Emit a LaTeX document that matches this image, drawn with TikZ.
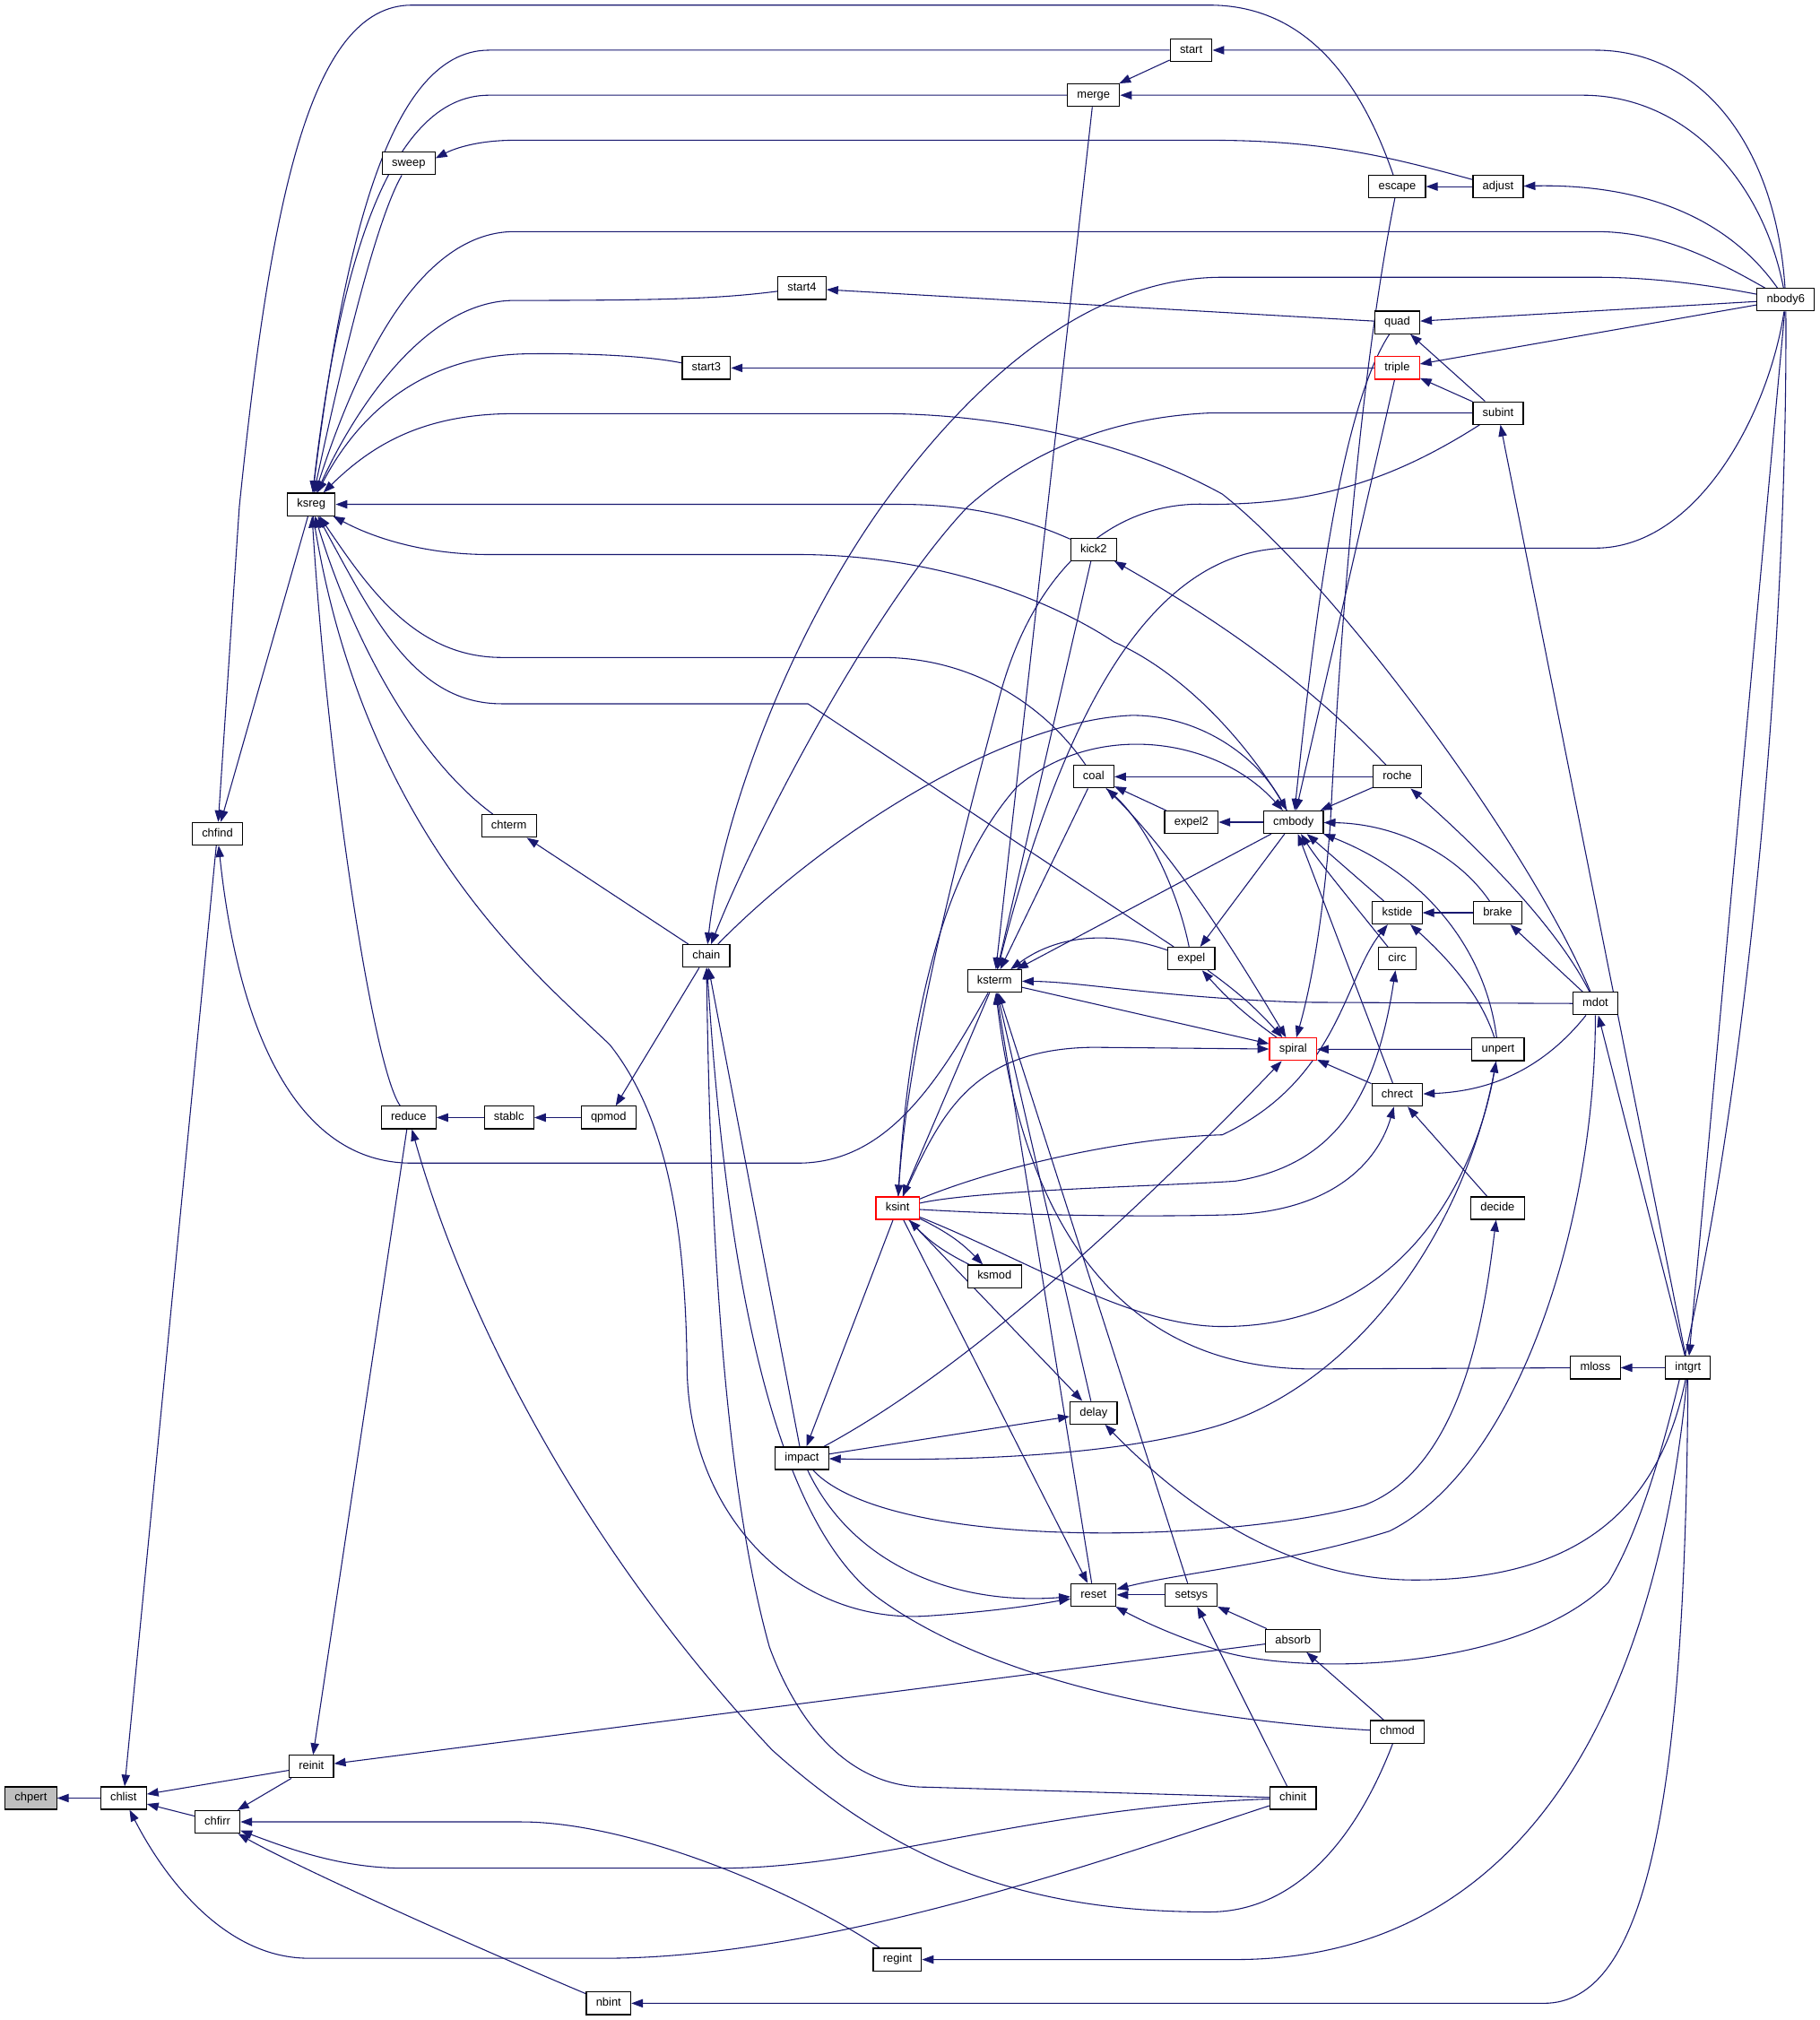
\documentclass[tikz,border=0pt]{standalone}
\usepackage{fontspec}
\newfontfamily\graphfont{Liberation Sans}
\usepackage{xcolor}
\usetikzlibrary{arrows.meta,backgrounds}
\definecolor{edgeblue}{RGB}{25,25,112}
\definecolor{focusgray}{RGB}{191,191,191}
\tikzset{
  fn/.style={draw=black, line width=0.8pt, fill=white, font=\graphfont\fontsize{9}{11}\selectfont,
    minimum height=17.5pt, inner xsep=7.5pt, inner ysep=0pt, text height=6.6pt, text depth=1.9pt},
  focus/.style={fn, fill=focusgray},
  trunc/.style={fn, draw=red},
  call/.style={draw=edgeblue, line width=0.75pt, -{Triangle[length=9pt,width=6.5pt]}}
}
\begin{document}
\begin{tikzpicture}[x=1pt, y=-1pt] %caller graph, y runs downwards
\useasboundingbox (0,0) rectangle (1414,1570);

\node [focus] (chpert) at (24,1397.5) {chpert};
\node [fn] (chlist) at (96,1397.5) {chlist};
\node [fn] (chfirr) at (169,1416) {chfirr};
\node [fn] (reinit) at (242,1373) {reinit};
\node [fn] (chfind) at (169,648) {chfind};
\node [fn] (ksreg) at (242,392) {ksreg};
\node [fn] (sweep) at (317.6,127) {sweep};
\node [fn] (reduce) at (317.6,868.6) {reduce};
\node [fn] (stablc) at (395.6,868.6) {stablc};
\node [fn] (qpmod) at (473,868.6) {qpmod};
\node [fn] (chterm) at (395.6,642) {chterm};
\node [fn] (chain) at (549,743) {chain};
\node [fn] (start4) at (623.3,224) {start4};
\node [fn] (start3) at (549,286) {start3};
\node [fn] (start) at (925.8,39) {start};
\node [fn] (merge) at (850,74) {merge};
\node [fn] (escape) at (1086,145) {escape};
\node [fn] (adjust) at (1164.4,145) {adjust};
\node [fn] (nbody6) at (1388,233) {nbody6};
\node [fn] (quad) at (1086,250.6) {quad};
\node [trunc] (triple) at (1086,286) {triple};
\node [fn] (subint) at (1164.4,321) {subint};
\node [fn] (kick2) at (850,427) {kick2};
\node [fn] (coal) at (850,603.7) {coal};
\node [fn] (roche) at (1086,603.7) {roche};
\node [fn] (expel2) at (926,639) {expel2};
\node [fn] (cmbody) at (1005.3,639) {cmbody};
\node [fn] (kstide) at (1086,709.4) {kstide};
\node [fn] (brake) at (1164,709.4) {brake};
\node [fn] (circ) at (1086,745) {circ};
\node [fn] (expel) at (926,745) {expel};
\node [fn] (ksterm) at (773,762.5) {ksterm};
\node [fn] (mdot) at (1240,780) {mdot};
\node [trunc] (spiral) at (1005,815.5) {spiral};
\node [fn] (unpert) at (1164.4,815.6) {unpert};
\node [fn] (chrect) at (1086,851) {chrect};
\node [fn] (decide) at (1164,939) {decide};
\node [trunc] (ksint) at (697.6,939) {ksint};
\node [fn] (ksmod) at (773,992) {ksmod};
\node [fn] (mloss) at (1240,1063) {mloss};
\node [fn] (intgrt) at (1312,1063) {intgrt};
\node [fn] (delay) at (850,1098) {delay};
\node [fn] (impact) at (623.3,1133.4) {impact};
\node [fn] (reset) at (850,1239.6) {reset};
\node [fn] (setsys) at (926,1239.6) {setsys};
\node [fn] (absorb) at (1005,1275) {absorb};
\node [fn] (chmod) at (1086,1346) {chmod};
\node [fn] (chinit) at (1005,1397.5) {chinit};
\node [fn] (regint) at (697.5,1523) {regint};
\node [fn] (nbint) at (473,1557) {nbint};

\begin{scope}[on background layer]
\draw [call] (chlist) -- (chpert);
\draw [call] (chfind) -- (chlist);
\draw [call] (reinit) -- (chlist);
\draw [call] (chfirr) -- (chlist);
\draw [call] (chinit) .. controls (880,1438) and (650,1522) .. (470,1522) -- (240,1522) .. controls (175,1522) and (128,1460) .. (chlist);
\draw [call] (reinit) -- (chfirr);
\draw [call] (regint) .. controls (615,1468) and (490,1416) .. (405,1416) -- (chfirr);
\draw [call] (chinit) .. controls (800,1405) and (680,1452) .. (560,1452) -- (314,1452) .. controls (265,1452) and (225,1437) .. (chfirr);
\draw [call] (nbint) .. controls (350,1505) and (225,1448) .. (chfirr);
\draw [call] (reduce) -- (reinit);
\draw [call] (absorb) -- (reinit);
\draw [call] (ksreg) -- (chfind);
\draw [call] (escape) .. controls (1055,55) and (1010,4) .. (940,4) -- (320,4) .. controls (240,4) and (210,160) .. (186,394) -- (chfind);
\draw [call] (ksterm) .. controls (725,850) and (685,904) .. (620,904) -- (320,904) .. controls (230,904) and (185,800) .. (chfind);

\draw [call] (start) -- (380,39) .. controls (300,39) and (266,200) .. (ksreg);
\draw [call] (merge) -- (380,74) .. controls (302,74) and (263,210) .. (ksreg);
\draw [call] (sweep) .. controls (290,175) and (262,300) .. (ksreg);
\draw [call] (nbody6) .. controls (1330,200) and (1290,180) .. (1240,180) -- (400,180) .. controls (320,180) and (272,300) .. (ksreg);
\draw [call] (start4) .. controls (560,232) and (520,233.5) .. (400,233.5) .. controls (330,233.5) and (275,320) .. (ksreg);
\draw [call] (start3) .. controls (500,276) and (450,274.5) .. (410,275) .. controls (335,276) and (282,315) .. (ksreg);
\draw [call] (mdot) .. controls (1190,660) and (1040,455) .. (950,384) .. controls (870,340) and (770,321.5) .. (685,321.5) -- (400,321.5) .. controls (330,321.5) and (290,345) .. (ksreg);
\draw [call] (kick2) .. controls (800,405) and (760,392) .. (700,392) -- (ksreg);
\draw [call] (cmbody) .. controls (975,585) and (925,525) .. (866,499) .. controls (810,462) and (720,431) .. (620,431) -- (380,431) .. controls (330,431) and (290,418) .. (ksreg);
\draw [call] (coal) .. controls (815,552) and (760,511) .. (685,511) -- (390,511) .. controls (322,511) and (285,455) .. (ksreg);
\draw [call] (expel) -- (628,547) -- (390,547) .. controls (322,547) and (290,480) .. (ksreg);
\draw [call] (chterm) .. controls (325,590) and (275,500) .. (ksreg);
\draw [call] (reduce) .. controls (290,830) and (255,600) .. (ksreg);
\draw [call] (ksreg) .. controls (282,650) and (420,760) .. (474,812) .. controls (520,870) and (533,960) .. (534,1064) .. controls (536,1180) and (620,1262) .. (720,1256) .. controls (780,1252) and (812,1246) .. (reset);

\draw [call] (adjust) .. controls (1080,122) and (1030,109) .. (940,109) -- (400,109) .. controls (370,109) and (352,116) .. ([yshift=4pt]sweep.east);
\draw [call] (nbody6) .. controls (1380,110) and (1320,39) .. (1240,39) -- (start);
\draw [call] (start) -- (merge);
\draw [call] (nbody6) .. controls (1370,140) and (1310,74) .. (1230,74) -- (merge);
\draw [call] (merge) -- (ksterm);
\draw [call] (adjust) -- (escape);
\draw [call] (nbody6) .. controls (1340,165) and (1270,143) .. (adjust);
\draw [call] (quad) -- (start4);
\draw [call] (triple) -- (start3);
\draw [call] (nbody6) -- (quad);
\draw [call] (nbody6) -- (triple);
\draw [call] (subint) -- (quad);
\draw [call] (subint) -- (triple);
\draw [call] (intgrt) -- (subint);
\draw [call] (nbody6) .. controls (1320,220) and (1280,215.5) .. (1240,215.5) -- (950,215.5) .. controls (850,215.5) and (760,290) .. (685,394) .. controls (610,500) and (560,640) .. (chain);
\draw [call] (subint) -- (940,321) .. controls (850,325) and (790,360) .. (752,394) .. controls (680,470) and (590,640) .. (chain);
\draw [call] (subint) .. controls (1080,375) and (1020,392) .. (940,392) .. controls (860,388) and (800,450) .. (776,545) .. controls (740,680) and (705,820) .. (ksint);

\draw [call] (chain) -- (chterm);
\draw [call] (chain) -- (qpmod);
\draw [call] (chain) .. controls (640,650) and (780,560) .. (880,556) .. controls (930,556) and (975,585) .. (cmbody);
\draw [call] (ksint) .. controls (705,800) and (730,680) .. (790,612) .. controls (850,560) and (945,572) .. (cmbody);
\draw [call] (impact) -- (chain);
\draw [call] (chinit) -- (720,1389) .. controls (660,1389) and (620,1340) .. (598,1280) .. controls (562,1150) and (552,950) .. (chain);
\draw [call] (chmod) .. controls (900,1335) and (760,1300) .. (680,1240) .. controls (592,1170) and (562,950) .. (chain);
\draw [call] (stablc) -- (reduce);
\draw [call] (qpmod) -- (stablc);
\draw [call] (chmod) .. controls (1050,1440) and (1000,1486) .. (940,1486) .. controls (800,1486) and (700,1450) .. (600,1360) .. controls (450,1200) and (360,1020) .. (reduce);

\draw [call] (absorb) -- (setsys);
\draw [call] (chinit) -- (setsys);
\draw [call] (chmod) -- (absorb);
\draw [call] (setsys) -- (reset);
\draw [call] (setsys) -- (ksterm);
\draw [call] (reset) -- (ksterm);
\draw [call] (delay) -- (ksterm);
\draw [call] (mloss) -- (1020,1064) .. controls (900,1064) and (800,990) .. (ksterm);
\draw [call] (kick2) -- (ksterm);
\draw [call] (coal) -- (ksterm);
\draw [call] (cmbody) -- (ksterm);
\draw [call] (expel) .. controls (860,722) and (820,728) .. (ksterm);
\draw [call] (mdot) -- (1010,779) .. controls (900,775) and (840,763) .. (ksterm);
\draw [call] (nbody6) .. controls (1375,320) and (1320,426) .. (1240,426) -- (1000,426) .. controls (900,428) and (830,540) .. (ksterm);

\draw [call] (ksterm) -- (spiral);
\draw [call] (ksterm) -- (ksint);
\draw [call] (ksint) .. controls (730,870) and (752,815) .. (850,814) -- (spiral);
\draw [call] (ksint) .. controls (780,905) and (880,884) .. (950,882) .. controls (1040,840) and (1045,760) .. (kstide);
\draw [call] (ksint) .. controls (760,925) and (900,922) .. (960,918) .. controls (1040,905) and (1070,850) .. (circ);
\draw [call] (ksint) .. controls (800,945) and (900,946) .. (960,944) .. controls (1040,940) and (1072,900) .. (chrect);
\draw [call] (ksint) .. controls (800,980) and (880,1031) .. (950,1031) .. controls (1100,1031) and (1150,900) .. (unpert);
\draw [call] (ksint) to [bend left=10] (ksmod);
\draw [call] (ksmod) to [bend left=10] (ksint);
\draw [call] (ksint) -- (delay);
\draw [call] (ksint) -- (impact);
\draw [call] (ksint) -- (reset);
\draw [call] (impact) -- (delay);
\draw [call] (impact) .. controls (760,1060) and (900,925) .. (spiral);
\draw [call] (unpert) .. controls (1140,960) and (1050,1080) .. (940,1110) .. controls (850,1135) and (720,1135) .. (impact);
\draw [call] (impact) .. controls (690,1205) and (950,1200) .. (1060,1170) .. controls (1140,1140) and (1155,1010) .. (decide);
\draw [call] (impact) .. controls (662,1215) and (740,1248) .. (reset);

\draw [call] (intgrt) .. controls (1290,1170) and (1230,1228) .. (1100,1228) .. controls (1000,1228) and (920,1170) .. (delay);
\draw [call] (intgrt) .. controls (1290,1300) and (1200,1523) .. (960,1523) -- (regint);
\draw [call] (intgrt) .. controls (1310,1400) and (1280,1557) .. (1200,1557) -- (nbint);
\draw [call] (nbody6) -- (intgrt);
\draw [call] (nbody6) .. controls (1390,600) and (1330,1100) .. (1250,1230) .. controls (1180,1300) and (1010,1302) .. (948,1283) .. controls (915,1272) and (892,1262) .. (reset);
\draw [call] (mdot) .. controls (1240,950) and (1180,1140) .. (1080,1190) .. controls (1000,1215) and (920,1222) .. (reset);
\draw [call] (intgrt) -- (mdot);
\draw [call] (intgrt) -- (mloss);
\draw [call] (mdot) .. controls (1210,720) and (1150,660) .. (roche);
\draw [call] (mdot) -- (brake);
\draw [call] (mdot) .. controls (1200,830) and (1160,848) .. (chrect);

\draw [call] (roche) -- (cmbody);
\draw [call] (roche) -- (coal);
\draw [call] (roche) .. controls (1030,545) and (970,495) .. (kick2);
\draw [call] (expel2) -- (coal);
\draw [call] (cmbody) -- (expel2);
\draw [call] (expel) .. controls (915,690) and (890,640) .. (coal);
\draw [call] (coal) .. controls (910,660) and (960,740) .. (spiral);
\draw [call] (cmbody) -- (expel);
\draw [call] (expel) to [bend left=6] (spiral);
\draw [call] (spiral) to [bend left=6] (expel);
\draw [call] (escape) .. controls (1055,300) and (1040,520) .. (1034,640) .. controls (1028,720) and (1018,770) .. (spiral);
\draw [call] (quad) .. controls (1040,320) and (1020,500) .. (cmbody);
\draw [call] (triple) -- (cmbody);
\draw [call] (kstide) -- (cmbody);
\draw [call] (circ) .. controls (1050,700) and (1025,670) .. (cmbody);
\draw [call] (unpert) .. controls (1155,740) and (1110,680) .. (cmbody);
\draw [call] (brake) .. controls (1130,660) and (1080,640) .. (cmbody);
\draw [call] (chrect) -- (cmbody);
\draw [call] (brake) -- (kstide);
\draw [call] (unpert) .. controls (1150,770) and (1120,740) .. (kstide);
\draw [call] (unpert) -- (spiral);
\draw [call] (chrect) -- (spiral);
\draw [call] (decide) -- (chrect);
\end{scope}
\end{tikzpicture}
\end{document}
